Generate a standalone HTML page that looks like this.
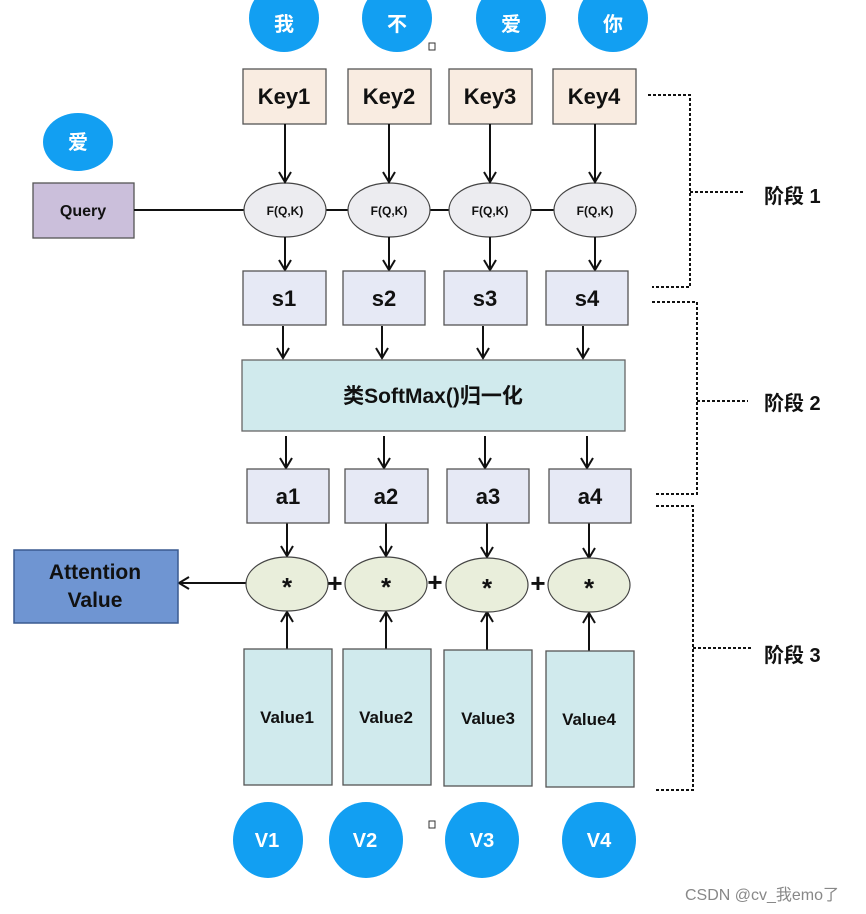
<!DOCTYPE html>
<html><head><meta charset="utf-8"><style>
html,body{margin:0;padding:0;background:#fff;}
svg{display:block;}
text{font-family:"Liberation Sans","Noto Sans CJK SC",sans-serif;font-weight:bold;fill:#111;text-anchor:middle;}
.w{fill:#fff;}
</style></head><body>
<svg width="866" height="914" viewBox="0 0 866 914" xmlns="http://www.w3.org/2000/svg">
<defs>
<marker id="ah" markerWidth="14" markerHeight="14" refX="11" refY="7" orient="auto" markerUnits="userSpaceOnUse">
<path d="M1,1 L11,7 L1,13" fill="none" stroke="#111" stroke-width="2"/>
</marker>
</defs>
<g fill="#129ff2">
<ellipse cx="284" cy="18" rx="35" ry="34"/>
<ellipse cx="397" cy="18" rx="35" ry="34"/>
<ellipse cx="511" cy="18" rx="35" ry="34"/>
<ellipse cx="613" cy="18" rx="35" ry="34"/>
<ellipse cx="78" cy="142" rx="35" ry="29"/>
<ellipse cx="268" cy="840" rx="35" ry="38"/>
<ellipse cx="366" cy="840" rx="37" ry="38"/>
<ellipse cx="482" cy="840" rx="37" ry="38"/>
<ellipse cx="599" cy="840" rx="37" ry="38"/>
</g>
<g font-size="20">
<text class="w" x="284" y="31">我</text>
<text class="w" x="397" y="31">不</text>
<text class="w" x="511" y="31">爱</text>
<text class="w" x="613" y="31">你</text>
<text class="w" x="78" y="149">爱</text>
</g>
<g font-size="20">
<text class="w" x="267" y="847">V1</text>
<text class="w" x="365" y="847">V2</text>
<text class="w" x="482" y="847">V3</text>
<text class="w" x="599" y="847">V4</text>
</g>
<rect x="429" y="43" width="6" height="7" fill="none" stroke="#333" stroke-width="1"/>
<rect x="429" y="821" width="6" height="7" fill="none" stroke="#333" stroke-width="1"/>

<g fill="#f9ece1" stroke="#555" stroke-width="1.3">
<rect x="243" y="69" width="83" height="55"/>
<rect x="348" y="69" width="83" height="55"/>
<rect x="449" y="69" width="83" height="55"/>
<rect x="553" y="69" width="83" height="55"/>
</g>
<g font-size="22">
<text x="284" y="104">Key1</text><text x="389" y="104">Key2</text><text x="490" y="104">Key3</text><text x="594" y="104">Key4</text>
</g>
<rect x="33" y="183" width="101" height="55" fill="#cbbfdb" stroke="#555" stroke-width="1.3"/>
<text x="83" y="216" font-size="16">Query</text>
<line x1="134" y1="210" x2="636" y2="210" stroke="#111" stroke-width="2"/>
<g fill="#ececf0" stroke="#444" stroke-width="1.2">
<ellipse cx="285" cy="210" rx="41" ry="27"/>
<ellipse cx="389" cy="210" rx="41" ry="27"/>
<ellipse cx="490" cy="210" rx="41" ry="27"/>
<ellipse cx="595" cy="210" rx="41" ry="27"/>
</g>
<g font-size="12">
<text x="285" y="215">F(Q,K)</text><text x="389" y="215">F(Q,K)</text><text x="490" y="215">F(Q,K)</text><text x="595" y="215">F(Q,K)</text>
</g>
<g stroke="#111" stroke-width="2" marker-end="url(#ah)">
<line x1="285" y1="124" x2="285" y2="182"/>
<line x1="389" y1="124" x2="389" y2="182"/>
<line x1="490" y1="124" x2="490" y2="182"/>
<line x1="595" y1="124" x2="595" y2="182"/>
<line x1="285" y1="237" x2="285" y2="270"/>
<line x1="389" y1="237" x2="389" y2="270"/>
<line x1="490" y1="237" x2="490" y2="270"/>
<line x1="595" y1="237" x2="595" y2="270"/>
<line x1="283" y1="326" x2="283" y2="358"/>
<line x1="382" y1="326" x2="382" y2="358"/>
<line x1="483" y1="326" x2="483" y2="358"/>
<line x1="583" y1="326" x2="583" y2="358"/>
<line x1="286" y1="436" x2="286" y2="468"/>
<line x1="384" y1="436" x2="384" y2="468"/>
<line x1="485" y1="436" x2="485" y2="468"/>
<line x1="587" y1="436" x2="587" y2="468"/>
<line x1="287" y1="523" x2="287" y2="556"/>
<line x1="386" y1="523" x2="386" y2="556"/>
<line x1="487" y1="523" x2="487" y2="557"/>
<line x1="589" y1="523" x2="589" y2="558"/>
<line x1="287" y1="649" x2="287" y2="612"/>
<line x1="386" y1="649" x2="386" y2="612"/>
<line x1="487" y1="650" x2="487" y2="612"/>
<line x1="589" y1="651" x2="589" y2="613"/>
<line x1="247" y1="583" x2="179" y2="583"/>
</g>
<g fill="#e6e9f5" stroke="#555" stroke-width="1.3">
<rect x="243" y="271" width="83" height="54"/>
<rect x="343" y="271" width="82" height="54"/>
<rect x="444" y="271" width="83" height="54"/>
<rect x="546" y="271" width="82" height="54"/>
<rect x="247" y="469" width="82" height="54"/>
<rect x="345" y="469" width="83" height="54"/>
<rect x="447" y="469" width="82" height="54"/>
<rect x="549" y="469" width="82" height="54"/>
</g>
<g font-size="22">
<text x="284" y="306">s1</text><text x="384" y="306">s2</text><text x="485" y="306">s3</text><text x="587" y="306">s4</text>
<text x="288" y="504">a1</text><text x="386" y="504">a2</text><text x="488" y="504">a3</text><text x="590" y="504">a4</text>
</g>
<rect x="242" y="360" width="383" height="71" fill="#d0eaed" stroke="#666" stroke-width="1.3"/>
<text x="433" y="403" font-size="21">类SoftMax()归一化</text>
<rect x="14" y="550" width="164" height="73" fill="#6f95d2" stroke="#3a5a90" stroke-width="1.5"/>
<text x="95" y="579" font-size="21">Attention</text>
<text x="95" y="607" font-size="21">Value</text>
<g fill="#e9eedb" stroke="#444" stroke-width="1.2">
<ellipse cx="287" cy="584" rx="41" ry="27"/>
<ellipse cx="386" cy="584" rx="41" ry="27"/>
<ellipse cx="487" cy="585" rx="41" ry="27"/>
<ellipse cx="589" cy="585" rx="41" ry="27"/>
</g>
<g font-size="26">
<text x="287" y="596">*</text><text x="386" y="596">*</text><text x="487" y="597">*</text><text x="589" y="597">*</text>
<text x="335" y="592">+</text><text x="435" y="591">+</text><text x="538" y="592">+</text>
</g>
<g fill="#d0eaed" stroke="#555" stroke-width="1.3">
<rect x="244" y="649" width="88" height="136"/>
<rect x="343" y="649" width="88" height="136"/>
<rect x="444" y="650" width="88" height="136"/>
<rect x="546" y="651" width="88" height="136"/>
</g>
<g font-size="17">
<text x="287" y="723">Value1</text><text x="386" y="723">Value2</text><text x="488" y="724">Value3</text><text x="589" y="725">Value4</text>
</g>
<g fill="none" stroke="#111" stroke-width="2" stroke-dasharray="3,2">
<polyline points="648,95 690,95 690,287 652,287"/>
<line x1="690" y1="192" x2="745" y2="192"/>
<polyline points="652,302 697,302 697,494 656,494"/>
<line x1="697" y1="401" x2="748" y2="401"/>
<polyline points="656,506 693,506 693,790 656,790"/>
<line x1="693" y1="648" x2="753" y2="648"/>
</g>
<g font-size="20" text-anchor="start">
<text x="764" y="203" style="text-anchor:start">阶段 1</text>
<text x="764" y="410" style="text-anchor:start">阶段 2</text>
<text x="764" y="662" style="text-anchor:start">阶段 3</text>
</g>
<text x="762" y="900" font-size="16" style="fill:#888;font-weight:normal">CSDN @cv_我emo了</text>
</svg>
</body></html>
